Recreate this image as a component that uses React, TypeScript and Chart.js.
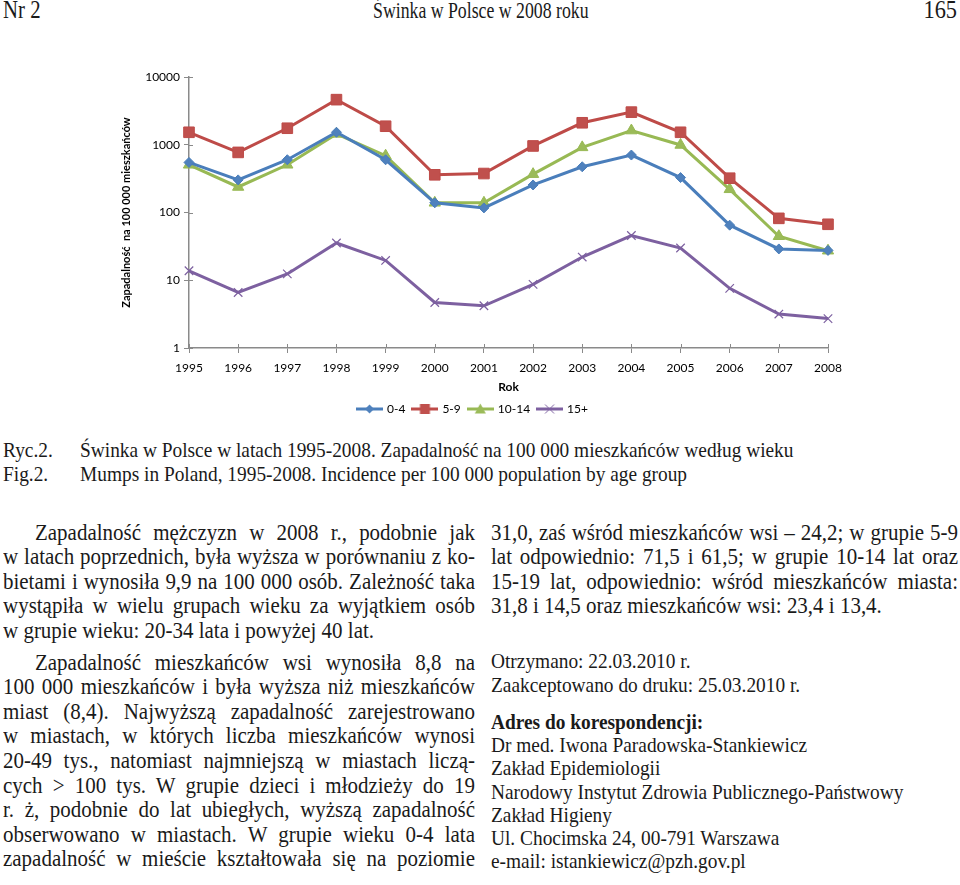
import React, { useEffect, useRef } from 'react';
import { Chart, registerables } from 'chart.js';

Chart.register(...registerables);

// ---------- DATA ----------
const years = ['1995', '1996', '1997', '1998', '1999', '2000', '2001', '2002', '2003', '2004', '2005', '2006', '2007', '2008'];
const age0to4 = [548, 303, 601, 1528, 600, 139, 117, 255, 473, 705, 328, 65, 29, 27.6];
const age5to9 = [1528, 771, 1753, 4630, 1877, 360, 376, 960, 2110, 3030, 1528, 321, 82, 67];
const age10to14 = [506, 238, 506, 1447, 689, 139, 139, 368, 915, 1620, 993, 220, 44.6, 27.3];
const age15plus = [13.8, 6.6, 12.4, 35.5, 19.6, 4.7, 4.2, 8.7, 22, 45.7, 29.9, 7.6, 3.17, 2.72];
const seriesNames = ['0-4', '5-9', '10-14', '15+'];
const yTickValues = [1, 10, 100, 1000, 10000];

const yTitle = 'Zapadalność  na 100 000 mieszkańców';
const xTitle = 'Rok';

const leftLines = [
  'Zapadalność mężczyzn w 2008 r., podobnie jak',
  'w latach poprzednich, była wyższa w porównaniu z ko-',
  'bietami i wynosiła 9,9 na 100 000 osób. Zależność taka',
  'wystąpiła w wielu grupach wieku za wyjątkiem osób',
  'w grupie wieku: 20-34 lata i powyżej 40 lat.',
  'Zapadalność mieszkańców wsi wynosiła 8,8 na',
  '100 000 mieszkańców i była wyższa niż mieszkańców',
  'miast (8,4). Najwyższą zapadalność zarejestrowano',
  'w miastach, w których liczba mieszkańców wynosi',
  '20-49 tys., natomiast najmniejszą w miastach liczą-',
  'cych > 100 tys. W grupie dzieci i młodzieży do 19',
  'r. ż, podobnie do lat ubiegłych, wyższą zapadalność',
  'obserwowano w miastach. W grupie wieku 0-4 lata',
  'zapadalność w mieście kształtowała się na poziomie',
];
const rightLines = [
  '31,0, zaś wśród mieszkańców wsi – 24,2; w grupie 5-9',
  'lat odpowiednio: 71,5 i 61,5; w grupie 10-14 lat oraz',
  '15-19 lat, odpowiednio: wśród mieszkańców miasta:',
  '31,8 i 14,5 oraz mieszkańców wsi: 23,4 i 13,4.',
];
const dateLines = ['Otrzymano: 22.03.2010 r.', 'Zaakceptowano do druku: 25.03.2010 r.'];
const addressTitle = 'Adres do korespondencji:';
const addressLines = [
  'Dr med. Iwona Paradowska-Stankiewicz',
  'Zakład Epidemiologii',
  'Narodowy Instytut Zdrowia Publicznego-Państwowy',
  'Zakład Higieny',
  'Ul. Chocimska 24, 00-791 Warszawa',
  'e-mail: istankiewicz@pzh.gov.pl',
];

// ---------- STYLE ----------
const AXIS = '#8a8a8a';
const SANS = 'Lato, "Open Sans", sans-serif';
const SERIF = '"Liberation Serif", "Times New Roman", serif';
const SX = 0.88;
const BODY_SIZE = 22.8;
const BODY_SX = 0.92;

const seriesStyle = [
  { line: '#4A7EBB', fill: '#4F81BD', point: 'rectRot', radius: 5 },
  { line: '#BE4B48', fill: '#C0504D', point: 'rect', radius: 7.5 },
  { line: '#98B954', fill: '#9BBB59', point: 'triangle', radius: 6.5 },
  { line: '#7D60A0', fill: '#8064A2', point: 'crossRot', radius: 6 },
];

function legendIcon(idx: number): HTMLCanvasElement {
  const c = document.createElement('canvas');
  c.width = 27;
  c.height = 14;
  const ctx = c.getContext('2d')!;
  const s = seriesStyle[idx];
  const cx = 13.5, cy = 7;
  ctx.strokeStyle = s.line;
  ctx.lineWidth = 3;
  ctx.beginPath();
  ctx.moveTo(0, cy);
  ctx.lineTo(27, cy);
  ctx.stroke();
  ctx.fillStyle = s.fill;
  ctx.strokeStyle = s.line;
  ctx.lineWidth = 1;
  ctx.beginPath();
  if (s.point === 'rectRot') {
    ctx.moveTo(cx - 4.5, cy); ctx.lineTo(cx, cy - 4.5); ctx.lineTo(cx + 4.5, cy); ctx.lineTo(cx, cy + 4.5); ctx.closePath();
    ctx.fill();
  } else if (s.point === 'rect') {
    ctx.rect(cx - 5, cy - 5, 10, 10);
    ctx.fill();
  } else if (s.point === 'triangle') {
    ctx.moveTo(cx, cy - 5.5); ctx.lineTo(cx + 5.5, cy + 4.5); ctx.lineTo(cx - 5.5, cy + 4.5); ctx.closePath();
    ctx.fill();
  } else {
    ctx.moveTo(cx - 4.5, cy - 4.5); ctx.lineTo(cx + 4.5, cy + 4.5);
    ctx.moveTo(cx + 4.5, cy - 4.5); ctx.lineTo(cx - 4.5, cy + 4.5);
    ctx.stroke();
  }
  return c;
}

const innerTicks = {
  id: 'innerTicks',
  afterDraw(chart: any) {
    const { ctx, scales } = chart;
    const x = scales.x, y = scales.y;
    ctx.save();
    ctx.strokeStyle = AXIS;
    ctx.lineWidth = 1;
    ctx.beginPath();
    for (let i = 0; i < x.ticks.length; i++) {
      const px = Math.round(x.getPixelForTick(i)) + 0.5;
      ctx.moveTo(px, y.bottom);
      ctx.lineTo(px, y.bottom - 4);
    }
    for (const v of yTickValues) {
      const py = Math.round(y.getPixelForValue(v)) + 0.5;
      ctx.moveTo(x.left, py);
      ctx.lineTo(x.left + 4, py);
    }
    ctx.stroke();
    ctx.restore();
  },
};

function MumpsChart() {
  const ref = useRef<HTMLCanvasElement>(null);
  useEffect(() => {
    const values = [age0to4, age5to9, age10to14, age15plus];
    const chart = new Chart(ref.current!, {
      type: 'line',
      data: {
        labels: years,
        datasets: values.map((v, i) => ({
          label: seriesNames[i],
          data: v,
          borderColor: seriesStyle[i].line,
          backgroundColor: seriesStyle[i].fill,
          borderWidth: 3,
          pointStyle: seriesStyle[i].point as any,
          pointRadius: seriesStyle[i].radius,
          pointBackgroundColor: seriesStyle[i].fill,
          pointBorderColor: seriesStyle[i].line,
          pointBorderWidth: i === 3 ? 1.2 : 1,
          tension: 0,
          fill: false,
        })),
      },
      options: {
        animation: false,
        responsive: false,
        maintainAspectRatio: false,
        layout: { padding: { left: 118, right: 132, top: 17, bottom: 0 } },
        plugins: {
          tooltip: { enabled: false },
          legend: {
            position: 'bottom',
            labels: {
              usePointStyle: true,
              pointStyleWidth: 23,
              boxHeight: 12,
              padding: 8,
              color: '#000',
              font: { family: SANS, size: 12 },
              generateLabels: () =>
                seriesNames.map((n, i) => ({
                  text: n,
                  pointStyle: legendIcon(i),
                  fillStyle: seriesStyle[i].fill,
                  strokeStyle: seriesStyle[i].line,
                  lineWidth: 0,
                  hidden: false,
                  datasetIndex: i,
                  fontColor: '#000',
                })) as any,
            },
          },
        },
        scales: {
          x: {
            type: 'category',
            offset: false,
            grid: { display: true, drawOnChartArea: false, drawTicks: true, tickLength: 5, color: AXIS },
            border: { display: true, color: AXIS, width: 1.5 },
            ticks: { padding: 8, color: '#000', font: { family: SANS, size: 12 }, maxRotation: 0, autoSkip: false },
            title: { display: true, text: xTitle, color: '#000', font: { family: SANS, size: 12, weight: 'bold' }, padding: { top: 4, bottom: 1 } },
            afterFit: (s: any) => { s.height = 47; },
          },
          y: {
            type: 'logarithmic',
            min: 1,
            max: 10000,
            afterBuildTicks: (s: any) => { s.ticks = yTickValues.map((v) => ({ value: v })); },
            grid: { display: true, drawOnChartArea: false, drawTicks: true, tickLength: 5, color: AXIS },
            border: { display: true, color: AXIS, width: 1.5 },
            ticks: { padding: 4, color: '#000', font: { family: SANS, size: 12 }, callback: (v: any) => String(v) },
            title: { display: true, text: yTitle, color: '#000', font: { family: SANS, size: 11, weight: 'bold' }, padding: { top: 2, bottom: 0 } },
            afterFit: (s: any) => { s.width = 71; },
          },
        },
      } as any,
      plugins: [innerTicks],
    });
    return () => chart.destroy();
  }, []);
  return (
    <canvas
      ref={ref}
      width={960}
      height={365}
      style={{ position: 'absolute', left: 0, top: 60, width: 960, height: 365 }}
    />
  );
}

function TextLine(props: { x: number; cy: number; w?: number; text: string; justify?: boolean; bold?: boolean; indent?: number; size?: number; sx?: number; right?: boolean }) {
  const size = props.size ?? 22;
  const sx = props.sx ?? SX;
  const lh = 24;
  const baselineOff = (lh - 1.107 * size) / 2 + 0.891 * size;
  const top = props.cy - (baselineOff - 0.229 * size);
  const style: React.CSSProperties = {
    position: 'absolute',
    left: props.x,
    top,
    fontFamily: SERIF,
    fontSize: size,
    lineHeight: lh + 'px',
    whiteSpace: 'nowrap',
    transform: `scaleX(${sx})`,
    transformOrigin: props.right ? 'right top' : 'left top',
    fontWeight: props.bold ? 'bold' : 'normal',
    color: '#1a1a1a',
    paddingLeft: props.indent ? props.indent / sx : 0,
    boxSizing: 'border-box',
  };
  if (props.w) {
    style.width = props.w / sx;
    if (props.justify) {
      style.textAlign = 'justify';
      (style as any).textAlignLast = 'justify';
    }
  }
  if (props.right) {
    delete (style as any).left;
    style.right = props.x;
  }
  return <div style={style}>{props.text}</div>;
}

export default function App() {
  const leftY = (i: number) => (i < 5 ? 535 + 24.6 * i : 665 + 24.6 * (i - 5));
  return (
    <div style={{ position: 'absolute', left: 0, top: 0, width: 960, height: 885, background: '#fff', overflow: 'hidden' }}>
      {/* header */}
      <TextLine x={3} cy={13} text="Nr 2" size={26} sx={0.8} />
      <TextLine x={373} cy={13} text="Świnka w Polsce w 2008 roku" size={24} sx={0.74} />
      <TextLine x={3} cy={13} text="165" size={26} sx={0.86} right />

      <MumpsChart />

      {/* caption */}
      <TextLine x={3} cy={452} text="Ryc.2." />
      <TextLine x={80} cy={452} text="Świnka w Polsce w latach 1995-2008. Zapadalność na 100 000 mieszkańców według wieku" />
      <TextLine x={3} cy={476} text="Fig.2." />
      <TextLine x={80} cy={476} text="Mumps in Poland, 1995-2008. Incidence per 100 000 population by age group" />

      {/* left column */}
      {leftLines.map((t, i) => (
        <TextLine
          key={'l' + i}
          x={3}
          cy={leftY(i)}
          w={472}
          text={t}
          justify={i !== 4}
          indent={i === 0 || i === 5 ? 32 : 0}
          size={BODY_SIZE}
          sx={BODY_SX}
        />
      ))}

      {/* right column */}
      {rightLines.map((t, i) => (
        <TextLine key={'r' + i} x={491} cy={535 + 24.6 * i} w={467} text={t} justify={i !== 3} size={BODY_SIZE} sx={BODY_SX} />
      ))}
      {dateLines.map((t, i) => (
        <TextLine key={'d' + i} x={491} cy={663 + 24 * i} text={t} />
      ))}
      <TextLine x={491} cy={724} text={addressTitle} bold />
      {addressLines.map((t, i) => (
        <TextLine key={'a' + i} x={491} cy={747.5 + 23.2 * i} text={t} />
      ))}
    </div>
  );
}
